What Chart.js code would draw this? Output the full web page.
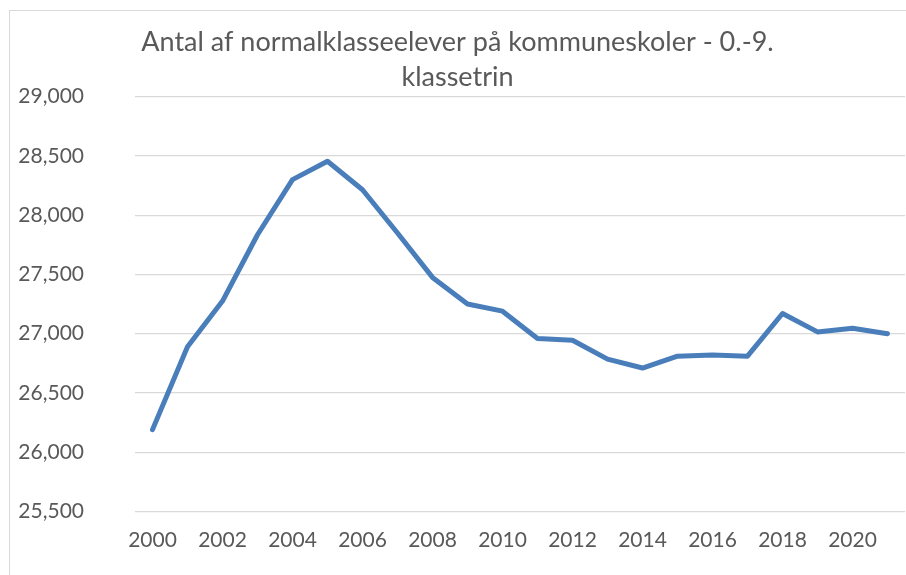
<!DOCTYPE html>
<html>
<head>
<meta charset="utf-8">
<script src="https://cdn.jsdelivr.net/npm/chart.js@4"></script>
<style>
  body { margin: 0; background: #fff; }
  #box {
    position: absolute; left: 9px; top: 10px;
    width: 897px; height: 565px;
    border-left: 1px solid #d9d9d9; border-top: 1px solid #d9d9d9;
    box-sizing: border-box;
  }
</style>
</head>
<body>
<div id="box"><canvas id="myChart"></canvas></div>
<script>
'use strict';

let years = ['2000', '2001', '2002', '2003', '2004', '2005', '2006', '2007', '2008', '2009', '2010',
    '2011', '2012', '2013', '2014', '2015', '2016', '2017', '2018', '2019', '2020', '2021'];
let pupils = [26190, 26890, 27275, 27835, 28300, 28455, 28215, 27850, 27475, 27250, 27190,
    26960, 26945, 26785, 26710, 26810, 26820, 26810, 27170, 27015, 27045, 27000];
let titleLines = ['Antal af normalklasseelever på kommuneskoler - 0.-9.', 'klassetrin'];
let yMin = 25500;
let yMax = 29000;
let yStep = 500;

let textColor = '#595959';
let gridColor = '#d9d9d9';

let ctx = document.getElementById('myChart').getContext('2d');
let myChart = new Chart(ctx, {
    type: 'line',
    data: {
        labels: years,
        datasets: [{
            label: 'Elever',
            data: pupils,
            borderColor: '#4a7ebb',
            borderWidth: 5,
            borderJoinStyle: 'round',
            borderCapStyle: 'round',
            pointRadius: 0,
            tension: 0,
            fill: false
        }]
    },
    options: {
        responsive: true,
        maintainAspectRatio: false,
        animation: false,
        locale: 'en-US',
        layout: {
            padding: { left: 0, right: 1, top: 0, bottom: 3.5 }
        },
        plugins: {
            legend: { display: false },
            tooltip: { enabled: false },
            title: {
                display: true,
                text: titleLines,
                color: textColor,
                font: { family: 'Lato', size: 27, weight: 'normal', lineHeight: 1.3 },
                padding: { top: 13.5, bottom: 2 }
            }
        },
        scales: {
            x: {
                offset: true,
                grid: { display: false, drawTicks: false },
                border: { display: false },
                ticks: {
                    color: textColor,
                    font: { family: 'Lato', size: 21 },
                    autoSkip: false,
                    maxRotation: 0,
                    padding: 16,
                    callback: function (value, index) {
                        return index % 2 === 0 ? years[index] : '';
                    }
                }
            },
            y: {
                min: yMin,
                max: yMax,
                grid: { color: gridColor, lineWidth: 1.3, drawTicks: false },
                border: { display: false },
                ticks: {
                    stepSize: yStep,
                    color: textColor,
                    font: { family: 'Lato', size: 21 },
                    padding: 51
                },
                afterFit: function (scale) {
                    scale.width = 125;
                }
            }
        }
    }
});
</script>
</body>
</html>
